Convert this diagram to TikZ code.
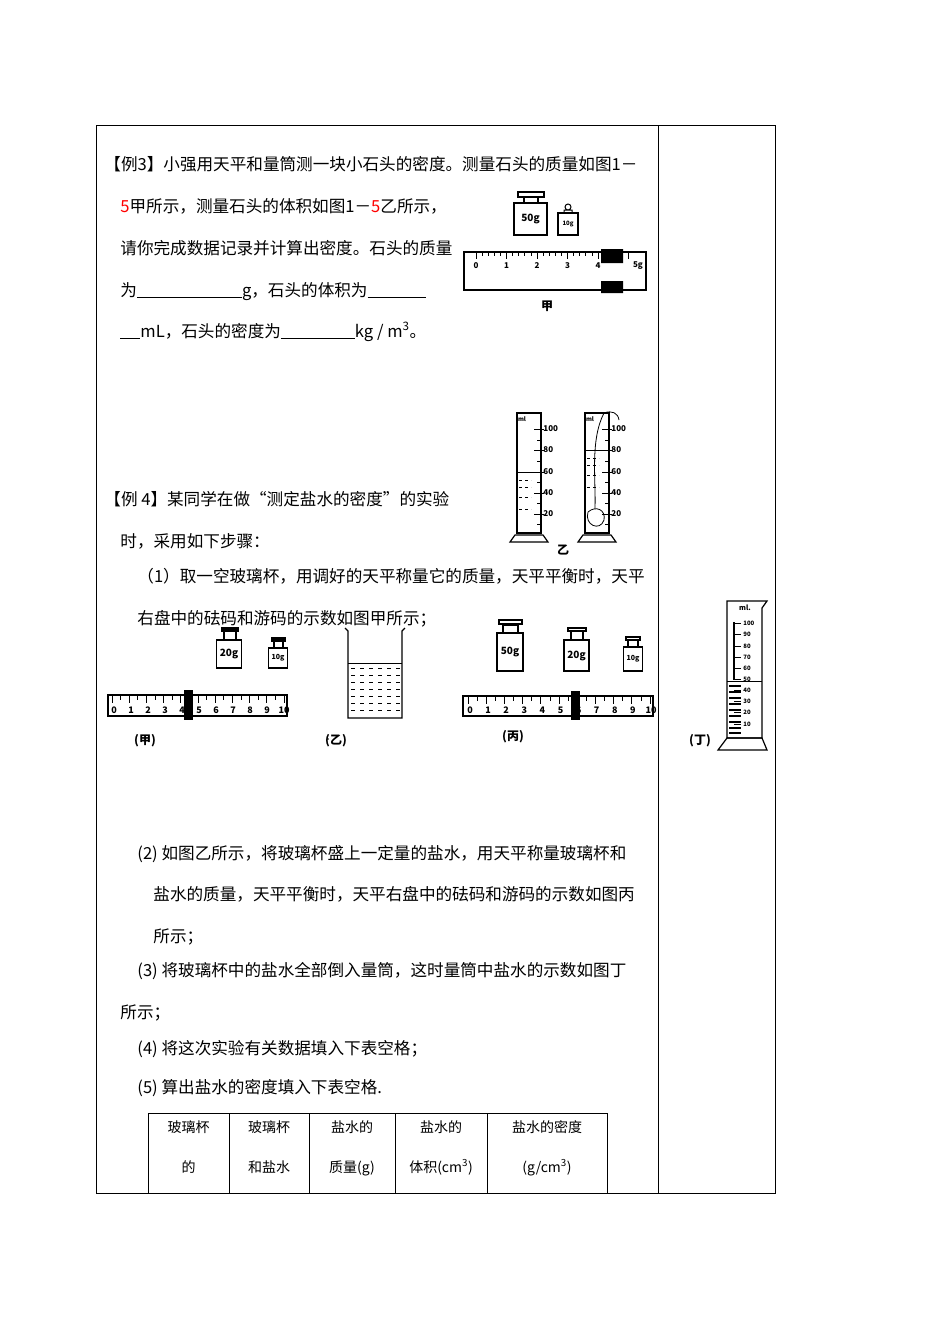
\documentclass[tikz,border=0pt]{standalone}
\usepackage{fontspec}
\setmainfont{Noto Sans CJK SC}
\begin{document}
\begin{tikzpicture}[x=1pt,y=-1pt,line width=0.8pt,
 txt/.style={anchor=base west,inner sep=0,font=\fontsize{16.6}{18}\selectfont},
 sm/.style={inner sep=0,font=\fontsize{8}{9}\bfseries\selectfont},
 lab/.style={inner sep=0,font=\fontsize{12}{14}\bfseries\selectfont},
 wt/.style={draw,line width=1.2pt,fill=white}]
\useasboundingbox (0,0) rectangle (950,1344);
\fill[white] (0,0) rectangle (950,1344);
% frame
\draw (96,125) rectangle (775,1193);
\draw (658,125) -- (658,1193);
% texts
\node[txt] (t1) at (104,170) {【例3】小强用天平和量筒测一块小石头的密度。测量石头的质量如图1－};
\node[txt] (t2) at (120,212) {\textcolor{red}{5}甲所示，测量石头的体积如图1－\textcolor{red}{5}乙所示，};
\node[txt] (t3) at (120,254) {请你完成数据记录并计算出密度。石头的质量};
\node[txt] (t4) at (120,296) {为\underline{\hspace{105pt}}g，石头的体积为\underline{\hspace{58pt}}};
\node[txt] (t5) at (120,337) {\underline{\hspace{20pt}}mL，石头的密度为\underline{\hspace{74pt}}kg / m\textsuperscript{3}。};
\node[txt] (t6) at (104,505) {【例 4】某同学在做“测定盐水的密度”的实验};
\node[txt] (t7) at (120,547) {时，采用如下步骤：};
\node[txt] (t8) at (137,582) {（1）取一空玻璃杯，用调好的天平称量它的质量，天平平衡时，天平};
\node[txt] (t9) at (137,624) {右盘中的砝码和游码的示数如图甲所示；};
\node[txt] (t10) at (137,859) {(2) 如图乙所示，将玻璃杯盛上一定量的盐水，用天平称量玻璃杯和};
\node[txt] (t11) at (153,900) {盐水的质量，天平平衡时，天平右盘中的砝码和游码的示数如图丙};
\node[txt] (t12) at (153,942) {所示；};
\node[txt] (t13) at (137,976) {(3) 将玻璃杯中的盐水全部倒入量筒，这时量筒中盐水的示数如图丁};
\node[txt] (t14) at (120,1018) {所示；};
\node[txt] (t15) at (137,1054) {(4) 将这次实验有关数据填入下表空格；};
\node[txt] (t16) at (137,1093) {(5) 算出盐水的密度填入下表空格.};
% table
\draw (148,1193) -- (148,1113) -- (607,1113) -- (607,1193) -- cycle;
\foreach \x in {229,309,395,487} \draw (\x,1113) -- (\x,1193);
\foreach \c/\a/\b in {188.5/玻璃杯/的,269/玻璃杯/和盐水,352/盐水的/{质量(g)},441/盐水的/{体积(cm\textsuperscript{3})},547/盐水的密度/{(g/cm\textsuperscript{3})}}{
 \node[anchor=base,inner sep=0,font=\fontsize{14}{16}\selectfont] at (\c,1132) {\a};
 \node[anchor=base,inner sep=0,font=\fontsize{14}{16}\selectfont] at (\c,1172) {\b};}
% ---- top fig 甲
\draw[line width=1.2pt] (524,197) rectangle (538,203) (518,192) rectangle (544,197);
\node[wt,minimum width=33pt,minimum height=32pt,font=\fontsize{10}{11}\bfseries\selectfont] (w50) at (530.5,219) {50g};
\draw[line width=1pt] (568,207) circle (3) (564,210) rectangle (572,213);
\node[wt,minimum width=20pt,minimum height=22pt,font=\fontsize{6}{7}\bfseries\selectfont] (w10) at (568,224) {10g};
\draw[line width=1.2pt] (464,252) rectangle (646,290);
\foreach \i in {0,...,25} \draw ({476+\i*6.1},252) -- ({476+\i*6.1},{mod(\i,5)==0?259:256});
\foreach \i in {0,...,4} \node[sm] at ({476+\i*30.5},266) {\i};
\node[sm] at (638,266) {5g};
\fill (601,249) rectangle (623,263) (601,281) rectangle (623,293);
\node[lab] (cj) at (547,306) {甲};
% cylinders
\foreach \cx/\lv in {517/472,585/450}{
 \draw[line width=1.2pt] (\cx,413) -- (\cx,533) -- (\cx+24,533) -- (\cx+24,413) -- cycle;
 \draw[line width=1.2pt] (\cx-7,542) -- (\cx-2,535) -- (\cx+26,535) -- (\cx+31,542) -- cycle;
 \node[sm,font=\fontsize{6}{7}\bfseries\selectfont] at (\cx+5,419) {ml};
 \foreach \v/\yy in {100/429,80/450,60/472,40/493,20/514}{
  \draw (\cx+17,\yy) -- (\cx+27,\yy);
  \node[sm,anchor=west] at (\cx+26,\yy) {\v};}
 \foreach \yy in {440,461,482,503,524} \draw (\cx+20,\yy) -- (\cx+24,\yy);
 \draw (\cx,\lv) -- (\cx+24,\lv);
 \foreach \yy in {8,15,25,37} \draw[dashed] (\cx+2,\lv+\yy) -- (\cx+14,\lv+\yy);
}
\draw (604,413) .. controls (590,440) and (596,480) .. (595,508);
\draw (604,413) .. controls (612,410) and (618,413) .. (619,420);
\draw (588,512) .. controls (584,525) and (600,532) .. (604,520) .. controls (606,510) and (596,505) .. (588,512);
\node[lab] (cy) at (563,550) {乙};
% ---- bottom fig 甲
\draw[line width=1.2pt] (224,630) rectangle (236,640) (222,628) rectangle (238,631);
\node[wt,minimum width=22pt,minimum height=28pt,font=\fontsize{10}{11}\bfseries\selectfont] (a20) at (229,654) {20g};
\draw[line width=1.2pt] (274,640) rectangle (283,648) (272,638) rectangle (285,641);
\node[wt,minimum width=16pt,minimum height=20pt,font=\fontsize{7}{8}\bfseries\selectfont] (a10) at (278,658) {10g};
\draw[line width=1.2pt] (108,695) rectangle (287,716);
\foreach \i in {0,...,20} \draw ({112+\i*8.6},695) -- ({112+\i*8.6},{mod(\i,2)==0?703:700});
\foreach \i in {0,...,10} \node[sm,font=\fontsize{9}{10}\bfseries\selectfont] at ({114+\i*17},710) {\i};
\fill (184,690) rectangle (193,720);
\node[lab] (bj) at (145,741) {(甲)};
% beaker
\draw[line width=1.2pt] (345,628) -- (348,631) -- (348,718) -- (402,718) -- (402,631) -- (405,628);
\draw (348,663) -- (402,663);
\foreach \yy in {668,675,682,689,696,703,710} {
 \foreach \xx in {351,360,369,378,387,396} \draw[line width=1pt] (\xx,\yy) -- (\xx+4,\yy);}
\node[lab] (by) at (336,741) {(乙)};
\fill (328,739) circle (0.8);
% bottom 丙
\draw[line width=1.2pt] (503,625) rectangle (518,633) (499,620) rectangle (522,624);
\node[wt,minimum width=26pt,minimum height=38pt,font=\fontsize{10}{11}\bfseries\selectfont] (c50) at (510,652) {50g};
\draw[line width=1.2pt] (571,631) rectangle (583,640) (568,628) rectangle (586,631);
\node[wt,minimum width=25pt,minimum height=31pt,font=\fontsize{10}{11}\bfseries\selectfont] (c20) at (576.5,655.5) {20g};
\draw[line width=1.2pt] (628,640) rectangle (638,647) (626,637) rectangle (640,640);
\node[wt,minimum width=18pt,minimum height=24pt,font=\fontsize{7}{8}\bfseries\selectfont] (c10) at (633,659) {10g};
\draw[line width=1.2pt] (463,696) rectangle (653,716);
\foreach \i in {0,...,20} \draw ({468+\i*9.1},696) -- ({468+\i*9.1},{mod(\i,2)==0?704:701});
\foreach \i in {0,...,10} \node[sm,font=\fontsize{9}{10}\bfseries\selectfont] at ({470+\i*18.1},710) {\i};
\fill (571,691) rectangle (580,720);
\node[lab] (bb) at (513,737) {(丙)};
% 丁
\draw[line width=1.2pt] (727,601) -- (727,738) -- (762,738) -- (762,608) -- (767,601) -- cycle;
\draw[line width=1.2pt] (718,750) -- (727,738) -- (762,738) -- (767,750) -- cycle;
\node[sm,font=\fontsize{7}{8}\bfseries\selectfont] at (745,608) {ml.};
\draw[line width=2pt] (734,622) -- (734,680);
\foreach \v/\yy in {100/623,90/634,80/646,70/657,60/668,50/679,40/690,30/701,20/712,10/724}{
 \draw (734,\yy) -- (741,\yy);
 \node[sm,font=\fontsize{6}{7}\bfseries\selectfont,anchor=west] at (743,\yy) {\v};}
\draw (727,681) -- (762,681);
\foreach \yy in {686,692,698,704,710,716,722,728,733} \draw[line width=1.4pt] (729,\yy) -- (741,\yy);
\node[lab] (dd) at (700,741) {(丁)};
\end{tikzpicture}
\end{document}
